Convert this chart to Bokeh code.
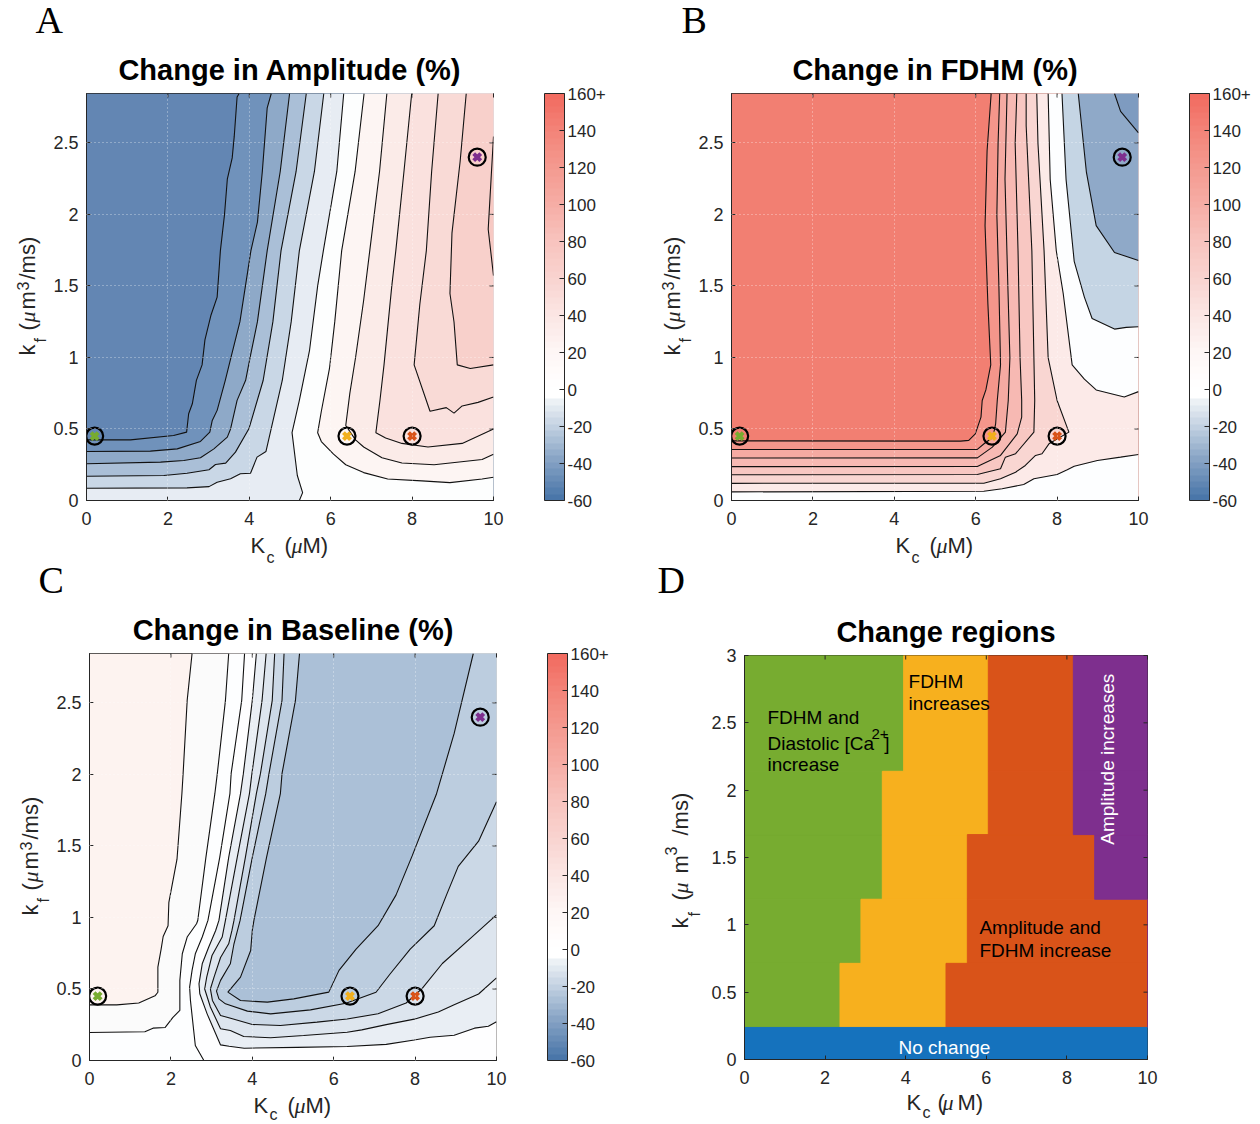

import math
import numpy as np
from bokeh.plotting import figure
from bokeh.layouts import column, row
from bokeh.models import (Range1d, FixedTicker, ColorBar, LinearColorMapper, ColumnDataSource)
from bokeh.core.properties import value
from bokeh.embed import file_html
from bokeh.resources import INLINE

# ---------- shared data ----------
KC_MAX = 10.0
KF_MAX = 2.845
X_TICKS = [0, 2, 4, 6, 8, 10]
Y_TICKS = [0, 0.5, 1, 1.5, 2, 2.5]
Y_TICKS_D = [0, 0.5, 1, 1.5, 2, 2.5, 3]
CB_TICKS = [-60, -40, -20, 0, 20, 40, 60, 80, 100, 120, 140, 160]
MARK_KC = [0.2, 6.4, 8.0, 9.6]
MARK_KF = [0.45, 0.45, 0.45, 2.4]
MARK_COLORS = ["#77ac30", "#f2b01e", "#d95319", "#7e2f8e"]

# ---------- Panel A: amplitude contours (Kc, kf) ----------
AMP_C1 = [(0,.424),(1.08,.424),(2.14,.454),(2.46,.478),(2.51,.606),(2.60,.676),(2.70,.84),(2.84,.948),(2.91,1.123),(3.06,1.297),(3.21,1.422),(3.29,1.747),(3.39,1.996),(3.46,2.246),(3.58,2.395),(3.63,2.545),(3.70,2.82),(3.75,2.845)]
AMP_C2 = [(0,.343),(1.57,.345),(2.23,.361),(2.8,.413),(3.03,.478),(3.09,.56),(3.21,.63),(3.41,.84),(3.55,1.0),(3.77,1.25),(4.04,1.747),(4.2,1.946),(4.32,2.3),(4.44,2.745),(4.54,2.845)]
AMP_C3 = [(0,.257),(1.82,.268),(2.39,.28),(2.8,.299),(3.13,.361),(3.46,.443),(3.54,.5),(3.70,.70),(3.91,.84),(4.02,1.0),(4.2,1.25),(4.44,1.747),(4.76,2.3),(4.99,2.845)]
AMP_C4 = [(0,.17),(1.90,.175),(2.47,.191),(3.01,.215),(3.17,.252),(3.42,.261),(3.66,.338),(3.99,.501),(4.34,.839),(4.58,1.25),(4.78,1.747),(5.15,2.3),(5.40,2.845)]
AMP_C5 = [(0,.086),(2.47,.088),(3.01,.097),(3.21,.128),(3.54,.152),(3.78,.187),(4.03,.191),(4.19,.303),(4.41,.343),(4.81,.839),(5.03,1.25),(5.23,1.747),(5.6,2.3),(5.83,2.845)]
AMP_C6 = [(5.23,0),(5.31,.055),(5.18,.175),(5.05,.474),(5.23,.70),(5.48,1.05),(5.68,1.5),(5.82,1.747),(6.15,2.3),(6.32,2.845)]
AMP_C7 = [(10,.162),(9.72,.15),(8.93,.125),(8.24,.137),(7.40,.15),(6.81,.195),(6.37,.25),(6.07,.324),(5.77,.412),(5.68,.474),(5.77,.624),(5.97,.923),(6.1,1.25),(6.27,1.747),(6.6,2.3),(6.82,2.845)]
AMP_C8 = [(10,.324),(9.72,.287),(8.54,.25),(7.75,.262),(7.26,.299),(6.81,.374),(6.61,.424),(6.37,.524),(6.47,.749),(6.61,.998),(6.81,1.4),(6.96,1.747),(7.2,2.3),(7.38,2.845)]
AMP_C9 = [(10,.499),(9.23,.399),(8.39,.374),(7.75,.399),(7.35,.437),(7.11,.474),(7.21,.699),(7.31,.948),(7.5,1.497),(7.6,1.747),(7.8,2.3),(7.99,2.845)]
AMP_C10 = [(10,.724),(9.62,.686),(9.23,.661),(9.03,.611),(8.84,.649),(8.44,.624),(8.05,.948),(8.19,1.372),(8.35,1.747),(8.48,2.3),(8.64,2.845)]
AMP_C11 = [(10,.948),(9.43,.923),(9.11,.948),(9.03,1.248),(8.93,1.447),(8.98,1.871),(9.18,2.37),(9.33,2.845)]
AMP_C12 = [(10,2.545),(9.94,2.246),(9.87,1.896),(10,1.572)]

# ---------- Panel B: FDHM contours ----------
FD_B1 = [(0,.417),(5.63,.415),(5.83,.42),(5.99,.466),(6.13,.583),(6.16,.699),(6.25,.773),(6.37,.948),(6.30,1.372),(6.23,1.921),(6.28,2.445),(6.38,2.845)]
FD_B2 = [(0,.357),(6.04,.357),(6.22,.40),(6.42,.44),(6.49,.536),(6.53,.699),(6.61,.948),(6.57,1.497),(6.52,1.996),(6.55,2.495),(6.59,2.845)]
FD_B3 = [(0,.297),(6.04,.298),(6.41,.373),(6.73,.478),(6.80,.699),(6.84,.998),(6.79,1.497),(6.72,2.245),(6.77,2.845)]
FD_B4 = [(0,.237),(6.04,.238),(6.61,.315),(7.02,.466),(7.13,.583),(7.13,.699),(7.09,.998),(7.04,1.746),(6.97,2.495),(7.01,2.845)]
FD_B5 = [(0,.18),(6.04,.182),(6.61,.222),(6.73,.303),(6.98,.327),(7.43,.478),(7.45,.699),(7.43,.998),(7.38,1.746),(7.24,2.62),(7.24,2.845)]
FD_B6 = [(0,.12),(6.2,.121),(6.61,.152),(6.98,.198),(7.22,.245),(7.47,.315),(7.63,.327),(7.8,.396),(8.29,.478),(8.0,.699),(7.78,.998),(7.68,1.746),(7.53,2.495),(7.50,2.845)]
FD_L7 = [(0,.06),(6.2,.065),(6.65,.082),(7.18,.112),(7.43,.152),(8.0,.182),(8.25,.215),(8.42,.240),(8.99,.28),(9.56,.303),(10,.322)]
FD_U1 = [(10,.761),(9.65,.724),(8.96,.773),(8.67,.848),(8.37,.948),(8.15,1.447),(7.98,1.746),(7.83,2.245),(7.78,2.845)]
FD_U2 = [(10,1.215),(9.70,1.21),(9.41,1.198),(8.86,1.272),(8.67,1.422),(8.42,1.672),(8.22,2.245),(8.12,2.845)]
FD_U3 = [(10,1.677),(9.41,1.734),(8.96,1.921),(8.72,2.295),(8.52,2.845)]
FD_U4 = [(10,2.57),(9.56,2.72),(9.41,2.845)]

# ---------- Panel C: baseline contours ----------
BL_D1 = [(0,.389),(.67,.389),(1.21,.402),(1.61,.452),(1.68,.477),(1.68,.653),(1.76,.779),(1.81,.867),(1.93,.942),(1.95,1.106),(2.15,1.407),(2.27,1.865),(2.30,2.005),(2.40,2.517),(2.52,2.845)]
BL_D2 = [(0,.196),(1.36,.201),(1.56,.226),(1.86,.231),(2.05,.302),(2.22,.35),(2.22,.56),(2.28,.746),(2.40,.863),(2.63,.956),(2.66,.979),(2.86,1.42),(3.08,1.865),(3.14,2.005),(3.34,2.517),(3.42,2.845)]
BL_D3 = [(2.81,0),(2.60,.105),(2.56,.21),(2.48,.42),(2.46,.513),(2.52,.63),(2.60,.746),(2.77,.863),(2.91,.979),(3.2,1.42),(3.45,1.865),(3.48,2.005),(3.74,2.517),(3.81,2.845)]
BL_E4 = [(10,.271),(9.8,.239),(9.46,.226),(8.96,.176),(8.37,.163),(7.98,.143),(7.29,.113),(6.33,.098),(5.1,.092),(3.80,.086),(3.43,.10),(3.22,.109),(2.89,.326),(2.71,.467),(2.69,.536),(2.77,.676),(2.93,.793),(3.10,.909),(3.18,.979),(3.42,1.42),(3.71,1.865),(3.78,2.005),(4.0,2.517),(4.10,2.845)]
BL_E3 = [(10,.578),(9.56,.465),(8.96,.389),(8.57,.339),(7.98,.289),(7.29,.251),(6.69,.214),(6.33,.197),(5.26,.175),(4.45,.159),(3.79,.168),(3.46,.21),(3.22,.222),(2.97,.374),(2.83,.50),(2.88,.583),(3.01,.734),(3.26,.863),(3.34,.979),(3.63,1.42),(3.93,1.865),(3.99,2.005),(4.24,2.517),(4.34,2.845)]
BL_E2 = [(10,1.018),(9.36,.854),(8.67,.678),(8.17,.503),(7.78,.402),(7.09,.327),(6.33,.29),(5.59,.268),(4.69,.245),(4.0,.252),(3.51,.292),(3.22,.315),(3.02,.42),(2.97,.50),(3.06,.583),(3.22,.72),(3.42,.816),(3.50,.909),(3.55,.979),(3.83,1.42),(4.10,1.865),(4.20,2.005),(4.49,2.517),(4.55,2.845)]
BL_E1 = [(10,1.809),(9.56,1.533),(9.06,1.357),(8.77,1.156),(8.47,.942),(7.88,.779),(7.38,.603),(7.04,.477),(6.30,.40),(5.43,.354),(4.45,.326),(3.88,.345),(3.34,.396),(3.18,.431),(3.12,.485),(3.22,.56),(3.46,.676),(3.55,.816),(3.70,.979),(4.0,1.42),(4.33,1.865),(4.41,2.005),(4.73,2.517),(4.78,2.845)]
BL_E0 = [(5.16,2.845),(5.06,2.517),(4.73,2.005),(4.69,1.865),(4.35,1.42),(4.04,.979),(4.0,.909),(3.96,.769),(3.71,.583),(3.40,.478),(3.71,.419),(4.37,.408),(5.02,.431),(5.88,.478),(6.13,.63),(6.55,.779),(7.09,.942),(7.53,1.156),(7.93,1.432),(8.52,1.859),(8.96,2.286),(9.43,2.845)]

# ---------- Panel D: regions ----------
ROW_BOTTOM = [0.238, 0.714, 1.19, 1.67, 2.14]
ROW_TOP = [0.714, 1.19, 1.67, 2.14, 3.0]
GREEN_END = [2.37, 2.89, 3.42, 3.42, 3.95]
YELLOW_END = [5.0, 5.53, 5.53, 6.05, 6.05]
ORANGE_END = [10.0, 10.0, 8.69, 8.16, 8.16]
NOCHANGE_TOP = 0.238

# ---------- styles ----------
TEXT_C = "#262626"
SANS = "Liberation Sans"
SERIF = "Liberation Serif"
CB_ANCHOR_V = [-60, -40, -20, -7, -5, 0, 20, 40, 60, 80, 100, 120, 140, 160]
CB_ANCHOR_C = ["#4a76a9", "#85a2c4", "#c6d4e3", "#eef2f6", "#ffffff", "#ffffff", "#fef6f5",
               "#fbe6e4", "#f9d4d0", "#f8c4bf", "#f6aea6", "#f49b91", "#f3857a", "#f26b60"]
AMP_FILLS = ["#6386b3", "#7092bb", "#8ea9c8", "#aabfd7", "#c9d7e6", "#e7ecf3", "#fdfefe",
             "#fdf5f3", "#fbebe8", "#fae1de", "#f9dad6", "#f8d0cb", "#f7c9c3"]
FD_FILLS = ["#f27f72", "#f4968b", "#f5aaa2", "#f7b9b3", "#f8c7c2", "#f9d6d2", "#fceae8",
            "#fdfeff", "#fdfeff", "#c5d5e4", "#8fa9c8", "#7e9bc0"]
BL_FILLS = ["#fdf3f0", "#fbfbfb", "#fdfeff", "#fefeff", "#e9eef4", "#dde5ee", "#cbd8e6",
            "#bccddf", "#abc0d7"]
BASELINE_FIX = 0.37
ROW2_OVERLAP = 14


def hex2rgb(h):
    return [int(h[i:i + 2], 16) for i in (1, 3, 5)]


def build_palette(n=64):
    rgb = np.array([hex2rgb(c) for c in CB_ANCHOR_C], dtype=float)
    vals = np.linspace(-60, 160, n)
    return ["#%02x%02x%02x" % tuple(int(round(np.interp(v, CB_ANCHOR_V, rgb[:, k]))) for k in range(3)) for v in vals]


def polygon(line, close):
    corners = {"a": [(KC_MAX, KF_MAX), (KC_MAX, 0), (0, 0)],
               "b": [(KC_MAX, KF_MAX), (KC_MAX, 0)],
               "c": [(KC_MAX, KF_MAX)],
               "d": [],
               "e": [(KC_MAX, 0), (0, 0)]}[close]
    pts = list(line) + corners
    return [p[0] for p in pts], [p[1] for p in pts]


def txt(p, s, dx, dy, size=22, font=SANS, style="normal", angle=0, color=TEXT_C):
    # anchored at the frame's lower-left corner, offset in pixels; drawn at annotation level so
    # that it is not clipped to the frame
    if angle:
        dx -= BASELINE_FIX * size
    else:
        dy += BASELINE_FIX * size
    p.text([0], [0], text=[s], x_offset=dx, y_offset=-dy, angle=angle, text_font=value(font),
           text_font_size=f"{size}px", text_font_style=style, text_color=color, text_align="left",
           text_baseline="alphabetic", level="annotation")


def style_axes(p, xticks, yticks, frame_w, frame_h):
    def fmt(t):
        return str(int(t)) if float(t).is_integer() else str(t)
    for ax, ticks, standoff in ((p.xaxis[0], xticks, 11), (p.yaxis[0], yticks, 8)):
        ax.ticker = FixedTicker(ticks=ticks)
        ax.major_label_overrides = {t: fmt(t) for t in ticks}
        ax.major_label_text_font = SANS
        ax.major_label_text_font_size = "18px"
        ax.major_label_text_color = TEXT_C
        ax.major_label_standoff = standoff
        ax.axis_line_color = TEXT_C
        ax.major_tick_line_color = TEXT_C
        ax.major_tick_in = 4
        ax.major_tick_out = 0
        ax.minor_tick_line_color = None
    p.outline_line_color = TEXT_C
    xmax = p.x_range.end
    ymax = p.y_range.end
    # mirrored ticks on the top and right edges of the box
    p.segment(x0=xticks, x1=xticks, y0=[ymax] * len(xticks), y1=[ymax * (1 - 4 / frame_h)] * len(xticks),
              line_color=TEXT_C, line_width=1, level="overlay")
    p.segment(x0=[xmax] * len(yticks), x1=[xmax * (1 - 4 / frame_w)] * len(yticks), y0=yticks, y1=yticks,
              line_color=TEXT_C, line_width=1, level="overlay")


def base_fig(title, w, h, l, r, t, b, ymax):
    p = figure(width=w, height=h, min_border_left=l, min_border_right=r, min_border_top=t,
               min_border_bottom=b, x_range=Range1d(0, KC_MAX), y_range=Range1d(0, ymax),
               toolbar_location=None, output_backend="svg", title=title)
    p.title.text_font = SANS
    p.title.text_font_size = "29px"
    p.title.text_font_style = "bold"
    p.title.text_color = "black"
    p.title.align = "center"
    p.title.standoff = 15
    p.background_fill_color = "white"
    p.border_fill_alpha = 0
    return p


def axis_labels(p, sub_drop=10, dx_k=164):
    base = -53
    txt(p, "K", dx_k, base)
    txt(p, "c", dx_k + 16, base - sub_drop, size=16)
    txt(p, "(", dx_k + 34, base)
    txt(p, "\u03bc", dx_k + 41, base, font=SERIF, style="italic")
    txt(p, "M)", dx_k + 52, base)
    a = math.pi / 2
    txt(p, "k", -51, 145, angle=a)
    txt(p, "f", -40, 158, size=16, angle=a)
    txt(p, "(", -51, 170, angle=a)
    txt(p, "\u03bc", -51, 178, font=SERIF, style="italic", angle=a)
    txt(p, "m", -51, 191, angle=a)
    txt(p, "3", -58, 210, size=16, angle=a)
    txt(p, "/ms)", -51, 221, angle=a)


def contour_panel(title, letter, letter_dx, letter_dy, w, h, l, r, t, b, layers, fills, palette, sub_drop=10):
    p = base_fig(title, w, h, l, r, t, b, KF_MAX)
    style_axes(p, X_TICKS, Y_TICKS, 407, 407)
    p.quad(left=[0], right=[KC_MAX], bottom=[0], top=[KF_MAX], fill_color=fills[0], line_color=None)
    lx, ly = [], []
    for (line, close), col in zip(layers, fills[1:]):
        px, py = polygon(line, close)
        p.patch(px, py, fill_color=col, line_color=None)
        lx.append([q[0] for q in line])
        ly.append([q[1] for q in line])
    p.multi_line(lx, ly, line_color="#111111", line_width=1.1)
    p.xgrid.grid_line_color = "white"
    p.ygrid.grid_line_color = "white"
    p.xgrid.grid_line_dash = "1 3"
    p.ygrid.grid_line_dash = "1 3"
    p.xgrid.grid_line_alpha = 0.6
    p.ygrid.grid_line_alpha = 0.6
    p.xgrid.level = "overlay"
    p.ygrid.level = "overlay"
    p.scatter(MARK_KC, MARK_KF, marker="x", size=10, line_color=MARK_COLORS, line_width=4)
    p.scatter(MARK_KC, MARK_KF, marker="circle", size=17, fill_color=None, line_color="black", line_width=2.2)
    axis_labels(p, sub_drop=sub_drop)
    txt(p, letter, letter_dx, letter_dy, size=38, font=SERIF, color="black")
    mapper = LinearColorMapper(palette=palette, low=-60, high=160)
    labels = {t: str(t) for t in CB_TICKS}
    labels[160] = "160+"
    cb = ColorBar(color_mapper=mapper, location=(458, 0), width=20, height=407, padding=0, margin=0,
                  ticker=FixedTicker(ticks=CB_TICKS), major_label_overrides=labels,
                  major_label_text_font=SANS, major_label_text_font_size="17px",
                  major_label_text_color=TEXT_C, label_standoff=3, bar_line_color=TEXT_C,
                  major_tick_line_color=TEXT_C, major_tick_in=5, minor_tick_line_color=None,
                  background_fill_alpha=0, border_line_color=None)
    p.add_layout(cb, "center")
    return p


palette = build_palette()

amp_layers = [(AMP_C1, "a"), (AMP_C2, "a"), (AMP_C3, "a"), (AMP_C4, "a"), (AMP_C5, "a"), (AMP_C6, "b"),
              (AMP_C7, "c"), (AMP_C8, "c"), (AMP_C9, "c"), (AMP_C10, "c"), (AMP_C11, "c"), (AMP_C12, "d")]
fd_layers = [(FD_B1, "a"), (FD_B2, "a"), (FD_B3, "a"), (FD_B4, "a"), (FD_B5, "a"), (FD_B6, "a"),
             (FD_L7, "e"), (FD_U1, "c"), (FD_U2, "c"), (FD_U3, "c"), (FD_U4, "c")]
bl_layers = [(BL_D1, "a"), (BL_D2, "a"), (BL_D3, "b"), (BL_E4, "c"), (BL_E3, "c"), (BL_E2, "c"),
             (BL_E1, "c"), (BL_E0, "d")]

pA = contour_panel("Change in Amplitude (%)", "A", -51, 466, 643, 568, 86, 150, 93, 68, amp_layers, AMP_FILLS, palette)
pB = contour_panel("Change in FDHM (%)", "B", -50, 466, 609, 568, 88, 114, 93, 68, fd_layers, FD_FILLS, palette)
pC = contour_panel("Change in Baseline (%)", "C", -51, 466, 643, 556 + ROW2_OVERLAP, 89, 147, 85 + ROW2_OVERLAP, 64,
                   bl_layers, BL_FILLS, palette, sub_drop=7)
pC.margin = (-ROW2_OVERLAP, 0, 0, 0)

# Panel D
pD = base_fig("Change regions", 609, 556 + ROW2_OVERLAP, 101, 105, 87 + ROW2_OVERLAP, 65, 3.0)
pD.margin = (-ROW2_OVERLAP, 0, 0, 0)
style_axes(pD, X_TICKS, Y_TICKS_D, 403, 404)
pD.xgrid.visible = False
pD.ygrid.visible = False
src = ColumnDataSource(dict(bottom=ROW_BOTTOM, top=ROW_TOP, green=GREEN_END, yellow=YELLOW_END,
                            orange=ORANGE_END, start=[0] * len(ROW_TOP), end=[KC_MAX] * len(ROW_TOP)))
pD.quad(left="start", right="green", bottom="bottom", top="top", source=src, fill_color="#77ac30", line_color="#77ac30")
pD.quad(left="green", right="yellow", bottom="bottom", top="top", source=src, fill_color="#f7b01e", line_color="#f7b01e")
pD.quad(left="yellow", right="orange", bottom="bottom", top="top", source=src, fill_color="#d95319", line_color="#d95319")
pD.quad(left="orange", right="end", bottom="bottom", top="top", source=src, fill_color="#7e2f8e", line_color="#7e2f8e")
pD.quad(left=[0], right=[KC_MAX], bottom=[0], top=[NOCHANGE_TOP], fill_color="#1572bd", line_color="#1572bd")


def dtxt(s, x, y, size=19, color="black", angle=0, align="left"):
    pD.text([x], [y], text=[s], text_font=value(SANS), text_font_size=f"{size}px", text_color=color,
            text_baseline="middle", text_align=align, angle=angle)


dtxt("FDHM and", 0.57, 2.54)
dtxt("Diastolic [Ca", 0.57, 2.35)
dtxt("2+", 3.15, 2.42, size=15)
dtxt("]", 3.47, 2.35)
dtxt("increase", 0.57, 2.19)
dtxt("FDHM", 4.07, 2.81)
dtxt("increases", 4.07, 2.64)
dtxt("Amplitude and", 5.83, 0.98)
dtxt("FDHM increase", 5.83, 0.81)
dtxt("No change", 4.96, 0.09, color="white", align="center")
dtxt("Amplitude increases", 9.0, 2.23, color="white", angle=math.pi / 2, align="center")

txt(pD, "K", 162, -51)
txt(pD, "c", 178, -59, size=16)
txt(pD, "(", 193, -51)
txt(pD, "\u03bc", 198, -51, font=SERIF, style="italic")
txt(pD, "M)", 213, -51)
a90 = math.pi / 2
txt(pD, "k", -56, 131, angle=a90)
txt(pD, "f", -44, 143, size=16, angle=a90)
txt(pD, "(", -56, 159, angle=a90)
txt(pD, "\u03bc", -56, 166, font=SERIF, style="italic", angle=a90)
txt(pD, "m", -56, 186, angle=a90)
txt(pD, "3", -68, 204, size=16, angle=a90)
txt(pD, "/ms)", -56, 224, angle=a90)
txt(pD, "D", -87, 465, size=38, font=SERIF, color="black")

page = column(row(column(pA), column(pB), spacing=0), row(column(pC), column(pD), spacing=0), spacing=0)
open("out.html", "w").write(file_html(page, INLINE))
